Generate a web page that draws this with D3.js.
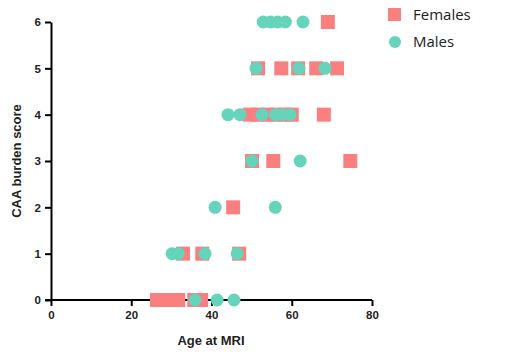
<!DOCTYPE html>
<html><head><meta charset="utf-8">
<script src="https://cdn.jsdelivr.net/npm/d3@7"></script>
<style>body{margin:0;background:#fff}svg{display:block}</style>
</head><body>
<script>
const xTicks = [0, 20, 40, 60, 80];
const yTicks = [0, 1, 2, 3, 4, 5, 6];
const seriesNames = ["Females", "Males"];
const femaleAge = [69, 51.6, 57.4, 61.6, 66.1, 71.3, 49.5, 51.5, 54, 56, 58.5, 60, 68, 50.1, 55.4, 74.6, 45.4, 32.9, 37.7, 46.9, 26.4, 28.4, 29.9, 31.7, 35.7, 37.4];
const femaleScore = [6, 5, 5, 5, 5, 5, 4, 4, 4, 4, 4, 4, 4, 3, 3, 3, 2, 1, 1, 1, 0, 0, 0, 0, 0, 0];
const maleAge = [52.9, 54.7, 56.5, 58.4, 62.8, 51.1, 61.8, 68.3, 44.1, 47.1, 52.6, 55.9, 57.6, 59.6, 50.1, 62.1, 40.9, 55.9, 30.2, 31.7, 38.4, 46.4, 35.9, 41.4, 45.6];
const maleScore = [6, 6, 6, 6, 6, 5, 5, 5, 4, 4, 4, 4, 4, 4, 3, 3, 2, 2, 1, 1, 1, 1, 0, 0, 0];

const W = 518, H = 358;
const pink = "#fa7f7f", teal = "#66d3bb";
const svg = d3.select("body").append("svg").attr("width", W).attr("height", H);
const x = d3.scaleLinear().domain([0, 80]).range([51, 372]);
const y = d3.scaleLinear().domain([0, 6]).range([300, 22]);

const xAxis = svg.append("g").attr("transform", "translate(0,300)")
  .call(d3.axisBottom(x).tickValues(xTicks).tickFormat(d3.format("d")).tickSize(6).tickPadding(5).tickSizeOuter(0));
const yAxis = svg.append("g").attr("transform", "translate(51,0)")
  .call(d3.axisLeft(y).tickValues(yTicks).tickFormat(d3.format("d")).tickSize(6).tickPadding(4).tickSizeOuter(0));
[xAxis, yAxis].forEach(a => {
  a.selectAll("path,line").attr("stroke", "#000").attr("stroke-width", 2);
  a.selectAll("text").attr("font-family", "Liberation Sans, Arial, sans-serif")
    .attr("font-size", 11.5).attr("font-weight", "bold").attr("fill", "#222");
});
xAxis.select("path").attr("d", `M${x(0)-6},0H${x(80)}`);

svg.append("text").attr("x", 211).attr("y", 345).attr("text-anchor", "middle")
  .attr("font-family", "Liberation Sans, Arial, sans-serif").attr("font-size", 13)
  .attr("font-weight", "bold").attr("fill", "#222").text("Age at MRI");
svg.append("text").attr("transform", "translate(21,161) rotate(-90)").attr("text-anchor", "middle")
  .attr("font-family", "Liberation Sans, Arial, sans-serif").attr("font-size", 13)
  .attr("font-weight", "bold").attr("fill", "#222").text("CAA burden score");

const fem = femaleAge.map((a, i) => ({a, s: femaleScore[i]}));
const mal = maleAge.map((a, i) => ({a, s: maleScore[i]}));
const sq = 14;
svg.append("g").selectAll("rect").data(fem).join("rect")
  .attr("x", d => x(d.a) - sq/2).attr("y", d => y(d.s) - sq/2)
  .attr("width", sq).attr("height", sq).attr("fill", pink);
svg.append("g").selectAll("circle").data(mal).join("circle")
  .attr("cx", d => x(d.a)).attr("cy", d => y(d.s)).attr("r", 6.5).attr("fill", teal);

const lg = svg.append("g");
lg.append("rect").attr("x", 388).attr("y", 8).attr("width", 13).attr("height", 13).attr("fill", pink);
lg.append("circle").attr("cx", 395).attr("cy", 42).attr("r", 6).attr("fill", teal);
lg.selectAll("text").data(seriesNames).join("text")
  .attr("x", 413).attr("y", (d, i) => 20 + i * 27)
  .attr("font-family", "Open Sans, sans-serif").attr("font-size", 15).attr("fill", "#222")
  .text(d => d);
</script>
</body></html>
